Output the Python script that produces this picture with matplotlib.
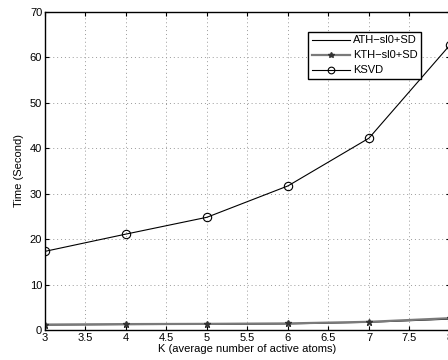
import matplotlib
matplotlib.use("Agg")
import matplotlib.pyplot as plt

# data
k = [3, 4, 5, 6, 7, 8]
ath = [1.1, 1.2, 1.25, 1.35, 1.7, 2.4]
kth = [1.2, 1.3, 1.35, 1.45, 1.8, 2.6]
ksvd = [17.3, 21.1, 24.8, 31.7, 42.2, 62.7]

labels = ["ATH\u2212sl0+SD", "KTH\u2212sl0+SD", "KSVD"]
xticks = [3, 3.5, 4, 4.5, 5, 5.5, 6, 6.5, 7, 7.5, 8]
yticks = [0, 10, 20, 30, 40, 50, 60, 70]

plt.rcParams['font.family'] = ['Liberation Sans', 'DejaVu Sans']
plt.rcParams['font.size'] = 8

fig = plt.figure(figsize=(4.48, 3.6), dpi=100)
ax = fig.add_axes([0.1004, 0.0833, 0.904, 0.884])

ax.plot(k, ath, color='black', lw=0.8, label=labels[0])
ax.plot(k, kth, color='#7a7a7a', lw=1.6, marker='*', ms=5,
        mfc='#333333', mec='#333333', label=labels[1])
ax.plot(k, ksvd, color='black', lw=0.8, marker='o', ms=6,
        mfc='none', mec='black', mew=0.8, label=labels[2])

ax.set_xlim(3, 8)
ax.set_ylim(0, 70)
ax.set_xticks(xticks)
ax.set_xticklabels([f"{t:g}" for t in xticks])
ax.set_yticks(yticks)
ax.tick_params(direction='in', length=3, width=0.8, pad=2, top=True, right=True)
ax.grid(True, linestyle=(0, (1, 3)), color='#999999', lw=0.7)
for s in ax.spines.values():
    s.set_linewidth(1.0)

ax.set_xlabel("K (average number of active atoms)", labelpad=1)
ax.set_ylabel("Time (Second)", labelpad=4)

leg = ax.legend(loc='upper right', bbox_to_anchor=(0.928, 0.936),
                fancybox=False, framealpha=1, edgecolor='black',
                borderpad=0.3, labelspacing=0.45, handlelength=3.4,
                handletextpad=0.3, borderaxespad=0, markerscale=0.8)
leg.get_frame().set_linewidth(1.0)

fig.savefig("out.png", dpi=100)
